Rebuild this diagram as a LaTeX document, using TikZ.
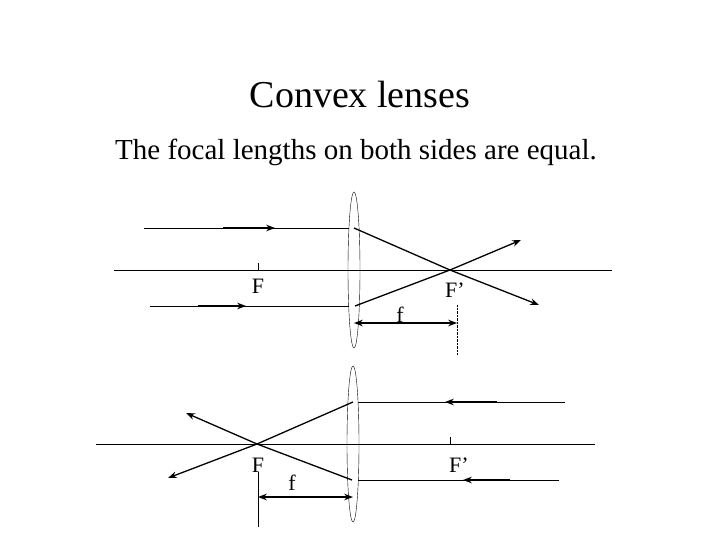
\documentclass[tikz,border=0pt]{standalone}
\usepackage{fontspec}
\setmainfont{Liberation Serif}
\usetikzlibrary{arrows.meta}

\begin{document}
\begin{tikzpicture}[x=1pt,y=-1pt,>=Stealth,
    ray/.style={line width=1.3pt},
    lbl/.style={font=\fontsize{22}{22}\selectfont, inner sep=0pt}]
    \useasboundingbox (0,0) rectangle (720,540);
    \node (title) at (360,95) {\fontsize{38}{38}\selectfont Convex lenses};
    \node (sub) at (356,152) {\fontsize{29}{29}\selectfont The focal lengths on both sides are equal.};
    % upper lens
    \draw (354,270) ellipse [x radius=6, y radius=78];
    \draw (114,270) -- (612,270);
    \coordinate (a1) at (144,228); \coordinate (a2) at (349,228);
    \coordinate (b1) at (150,306); \coordinate (b2) at (349,306);
    \draw (a1) -- (a2); \draw (b1) -- (b2);
    \draw[ray,->] (223,228) -- (275,228);
    \draw[ray,->] (198,306) -- (246,306);
    \coordinate (Fp) at (450,270);
    \draw[ray,->] (354,228) -- (Fp) -- (539,305);
    \draw[ray,->] (355,306) -- (Fp) -- (521,240);
    \draw (258,263) -- (258,270);
    \node[lbl] (F1) at (258,286) {F};
    \node[lbl] (Fp1) at (455,290) {F’};
    \draw[densely dotted] (457,305) -- (457,355);
    \coordinate (l1) at (354,323); \coordinate (r1) at (457,323);
    \draw[ray,<->] (l1) -- (r1);
    \node[lbl] (f1) at (400,315) {f};
    % lower lens
    \draw (353,444) ellipse [x radius=6, y radius=78];
    \draw (96,444) -- (595,444);
    \coordinate (c1) at (565,402); \coordinate (c2) at (358,402);
    \coordinate (d1) at (559,480); \coordinate (d2) at (358,480);
    \draw (c1) -- (c2); \draw (d1) -- (d2);
    \draw[ray,->] (497,402) -- (445,402);
    \draw[ray,->] (510,480) -- (463,480);
    \coordinate (F) at (257,444);
    \draw[ray,->] (353,402) -- (F) -- (168,478);
    \draw[ray,->] (352,480) -- (F) -- (186,413);
    \draw (450,437) -- (450,444);
    \node[lbl] (F2) at (258,465) {F};
    \node[lbl] (Fp2) at (459,465) {F’};
    \draw (258,472) -- (258,527);
    \coordinate (l2) at (258,497); \coordinate (r2) at (353,497);
    \draw[ray,<->] (l2) -- (r2);
    \node[lbl] (f2) at (292,483) {f};
\end{tikzpicture}
\end{document}
